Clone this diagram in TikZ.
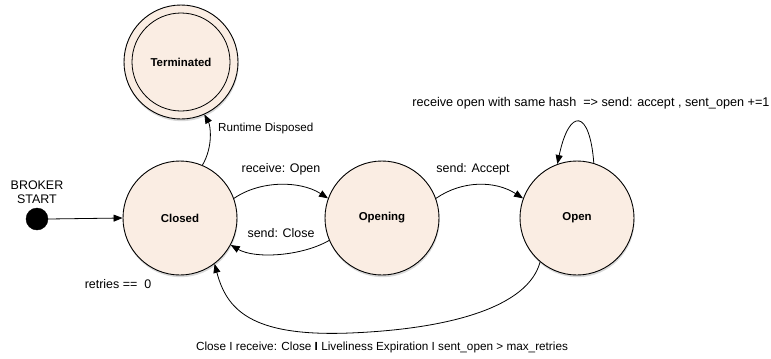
\documentclass[tikz,border=0pt]{standalone}
\usepackage{fontspec}
\setmainfont{Liberation Sans}
\usetikzlibrary{arrows.meta,shadows}
\definecolor{statefill}{RGB}{250,237,227}
\begin{document}
\begin{tikzpicture}[x=1bp,y=-1bp,
  state/.style={circle,draw=black,line width=0.9bp,fill=statefill,
    minimum size=114bp,inner sep=0pt,
    font=\fontsize{11.5}{13}\selectfont\bfseries,
    drop shadow={shadow xshift=0.6bp,shadow yshift=-2.2bp,opacity=0.3}},
  trans/.style={-{Triangle[length=9bp,width=7bp]},line width=0.8bp},
  lbl/.style={font=\fontsize{12.5}{14.5}\selectfont,inner sep=0pt,align=center},
  small lbl/.style={lbl,font=\fontsize{11.7}{14}\selectfont},
]
\useasboundingbox (0,0) rectangle (771,358);

% states
\node[state] (term) at (181,62) {Terminated};
\draw[line width=0.8bp] (term.center) circle[radius=49bp];
\node[state] (closed) at (180,218) {Closed};
\node[state] (opening) at (382,218) {Opening};
\node[state] (open) at (577,218) {Open};

% initial pseudo-state
\node[circle,fill=black,draw=black,minimum size=22bp,inner sep=0pt] (start) at (37,219) {};
\node[lbl] (startlbl) at (37,192) {BROKER\\START};

% transitions
\draw[trans] (start.east) -- (closed.west);
\draw[trans] (closed.67) .. controls +(11,-19) and +(6,11) .. (term.-66);
\draw[trans] (closed.20) .. controls +(26,-18) and +(-28,-18) .. (opening.160);
\draw[trans] (opening.203) .. controls +(-28,16) and +(24,14) .. (closed.-28);
\draw[trans] (opening.20) .. controls +(26,-18) and +(-28,-18) .. (open.160);
\draw[trans] (open.73) .. controls +(-4,-54) and +(12,-57) .. (open.110);
\draw[trans] (open.-130) .. controls +(-12,45) and (450,329) .. (350,333)
  .. controls (250,337) and +(12,45) .. (closed.-53);

% transition labels
\node[small lbl,anchor=west] (lrt) at (218,128) {Runtime Disposed};
\node[lbl] (lro) at (281,169) {receive: Open};
\node[lbl] (lsc) at (281,233) {send: Close};
\node[lbl] (lsa) at (473,169) {send: Accept};
\node[lbl] (lre) at (118,284) {retries ==\ \ 0};
\node[lbl,font=\fontsize{12.7}{14.5}\selectfont] (lself) at (591,103) {receive open with same hash\ \ => send: accept , sent\_open +=1};
\node[small lbl,font=\fontsize{11.8}{14}\selectfont] (lbot) at (382,347) {Close I receive: Close {\bfseries I} Liveliness Expiration I sent\_open > max\_retries};
\end{tikzpicture}
\end{document}
